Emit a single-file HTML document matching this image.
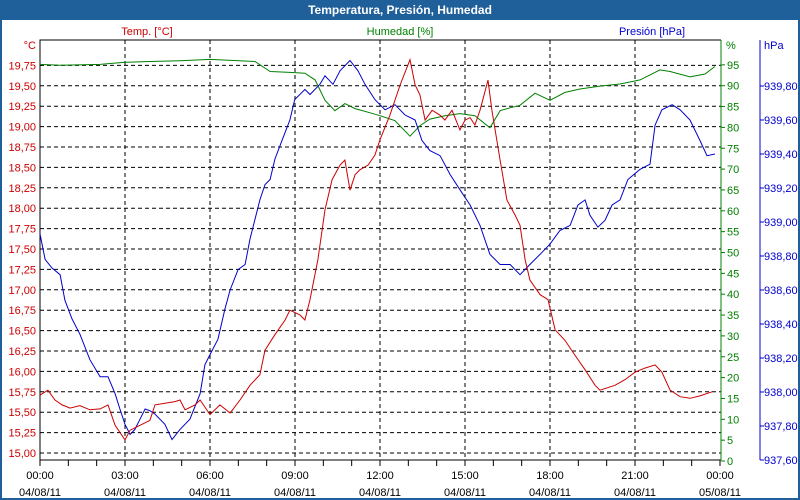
<!DOCTYPE html>
<html><head><meta charset="utf-8">
<style>
html,body{margin:0;padding:0;width:800px;height:500px;overflow:hidden;background:#1f5f9a;font-family:"Liberation Sans",sans-serif}
svg{display:block}
</style></head>
<body>
<svg width="800" height="500" id="c" font-family="Liberation Sans, sans-serif" font-size="11">
<rect x="0" y="0" width="800" height="20" fill="#1f5f9a"/>
<text x="400" y="14" text-anchor="middle" fill="#fff" font-weight="bold" font-size="12">Temperatura, Presión, Humedad</text>
<rect x="2" y="20" width="796" height="478" fill="#fff"/>
<text x="147" y="35" text-anchor="middle" fill="#cc0000">Temp. [°C]</text>
<text x="400" y="35" text-anchor="middle" fill="#008000">Humedad [%]</text>
<text x="652" y="35" text-anchor="middle" fill="#0000cc">Presión [hPa]</text>
<text x="36" y="49" text-anchor="end" fill="#cc0000">°C</text>
<text x="726" y="49" fill="#008000">%</text>
<text x="764" y="49" fill="#0000cc">hPa</text>
<g id="grid"></g><g id="axes"></g><g id="series"></g>
</svg>
<script>
const tempTicks=[15,15.25,15.5,15.75,16,16.25,16.5,16.75,17,17.25,17.5,17.75,18,18.25,18.5,18.75,19,19.25,19.5,19.75];
const humTicks=[0,5,10,15,20,25,30,35,40,45,50,55,60,65,70,75,80,85,90,95];
const presTicks=[937.6,937.8,938.0,938.2,938.4,938.6,938.8,939.0,939.2,939.4,939.6,939.8];
const xTickHours=[0,3,6,9,12,15,18,21,24];
const xTimeLabels=["00:00","03:00","06:00","09:00","12:00","15:00","18:00","21:00","00:00"];
const xDateLabels=["04/08/11","04/08/11","04/08/11","04/08/11","04/08/11","04/08/11","04/08/11","04/08/11","05/08/11"];
const tempHours=[0,.28,.53,.78,1.06,1.41,1.76,2.12,2.4,2.65,3.0,3.18,3.53,3.88,4.06,4.41,4.76,4.94,5.12,5.47,5.65,6,6.35,6.71,7.06,7.41,7.76,7.94,8.29,8.65,8.82,9.18,9.35,9.53,9.81,10.06,10.31,10.59,10.76,10.94,11.12,11.29,11.58,11.82,12,12.35,12.71,13.06,13.24,13.41,13.59,13.84,14.12,14.29,14.54,14.82,15,15.18,15.35,15.53,15.81,15.95,16.24,16.48,16.76,16.94,17.12,17.29,17.65,17.93,18.18,18.53,18.88,19.24,19.59,19.76,20.29,20.65,21,21.35,21.71,21.95,22.24,22.59,22.94,23.29,23.72];
const tempValues=[15.71,15.77,15.65,15.59,15.55,15.58,15.53,15.54,15.59,15.34,15.16,15.28,15.34,15.40,15.59,15.61,15.63,15.65,15.53,15.59,15.65,15.47,15.59,15.49,15.65,15.83,15.96,16.26,16.45,16.63,16.75,16.69,16.63,16.88,17.37,17.98,18.35,18.53,18.59,18.22,18.41,18.47,18.53,18.65,18.84,19.14,19.51,19.82,19.51,19.39,19.08,19.20,19.14,19.08,19.20,18.96,19.08,19.11,19.02,19.20,19.57,19.20,18.59,18.10,17.92,17.79,17.37,17.12,16.94,16.88,16.51,16.38,16.20,16.02,15.83,15.77,15.83,15.90,15.99,16.04,16.08,15.99,15.77,15.69,15.67,15.70,15.75];
const humHours=[0,.71,2.12,3,3.88,4.94,6,7.59,8.12,8.82,9.35,9.71,10.06,10.41,10.76,11.12,11.65,12,12.53,13.06,13.41,13.76,14.29,14.82,15.35,15.88,16.24,16.59,16.94,17.47,18,18.53,19.06,19.76,20.47,21.18,21.88,22.24,22.94,23.47,23.82];
const humValues=[95.1,94.9,95.1,95.6,95.8,96.0,96.3,95.8,93.4,93.2,93.0,91.4,86.5,84.0,85.7,84.5,83.5,82.8,81.6,77.9,80.4,82.0,82.8,83.3,82.8,79.9,84.0,84.7,85.3,88.2,86.5,88.4,89.2,89.9,90.4,91.4,93.8,93.4,92.1,92.8,94.6];
const presHours=[0,.18,.42,.71,.88,1.13,1.41,1.76,2.12,2.4,2.65,2.82,3,3.18,3.35,3.53,3.71,3.88,4.06,4.41,4.66,4.94,5.29,5.65,5.82,6,6.28,6.53,6.71,6.99,7.24,7.41,7.76,7.94,8.12,8.29,8.54,8.82,8.99,9.35,9.53,9.88,10.06,10.34,10.59,10.94,11.22,11.47,11.82,12.18,12.53,12.88,13.24,13.48,13.76,14.12,14.47,14.82,15.18,15.53,15.88,16.24,16.59,16.94,17.29,17.65,18,18.35,18.71,18.99,19.24,19.41,19.69,19.94,20.19,20.47,20.75,21.18,21.53,21.71,21.95,22.31,22.59,22.94,23.29,23.54,23.82];
const presValues=[938.93,938.78,938.73,938.69,938.54,938.43,938.34,938.19,938.09,938.09,937.99,937.90,937.81,937.75,937.78,937.84,937.90,937.89,937.87,937.81,937.72,937.78,937.84,937.99,938.16,938.22,938.31,938.49,938.60,938.72,938.75,938.90,939.13,939.22,939.25,939.37,939.48,939.60,939.72,939.78,939.75,939.81,939.86,939.81,939.89,939.95,939.89,939.81,939.72,939.66,939.69,939.63,939.60,939.48,939.42,939.39,939.28,939.19,939.10,938.98,938.81,938.75,938.75,938.69,938.75,938.81,938.87,938.95,938.98,939.10,939.13,939.04,938.97,939.01,939.10,939.13,939.25,939.31,939.34,939.57,939.66,939.69,939.66,939.60,939.48,939.39,939.40];
const NS="http://www.w3.org/2000/svg";
const L=40,R=721,T=40,B=460;
const x=h=>L+(h/24)*(R-L-1);
const yT=v=>453-(v-15)*81.6;
const yH=v=>461-v*4.17;
const yP=v=>460-(v-937.6)*170;
function mk(tag,at,parent){const e=document.createElementNS(NS,tag);for(const k in at)e.setAttribute(k,at[k]);document.getElementById(parent).appendChild(e);return e;}
tempTicks.forEach((v,i)=>{const g=mk('line',{x1:L,x2:R,y1:yT(v),y2:yT(v),stroke:'#000','stroke-dasharray':'4,3'},'grid');


const t=mk('text',{x:36,y:yT(v)+4,'text-anchor':'end',fill:'#cc0000'},'axes');t.textContent=v.toFixed(2).replace('.',',');

});
xTickHours.forEach((h,i)=>{if(i>0&&i<8){const g=mk('line',{x1:x(h),x2:x(h),y1:T,y2:B,stroke:'#000','stroke-dasharray':'4,3'},'grid');

}
const t1=mk('text',{x:x(h),y:479,'text-anchor':'middle',fill:'#000'},'axes');t1.textContent=xTimeLabels[i];


const t2=mk('text',{x:x(h),y:496,'text-anchor':'middle',fill:'#000'},'axes');t2.textContent=xDateLabels[i];

});
for(let h=0;h<=24;h++){const tk=mk('line',{x1:x(h),x2:x(h),y1:B,y2:B+6,stroke:'#000'},'axes');

}
humTicks.forEach(v=>{const tk=mk('line',{x1:R,x2:R+4,y1:yH(v),y2:yH(v),stroke:'#008000'},'axes');


const t=mk('text',{x:727,y:yH(v)+4,fill:'#008000'},'axes');t.textContent=v;

});
presTicks.forEach(v=>{const tk=mk('line',{x1:760,x2:764,y1:yP(v),y2:yP(v),stroke:'#0000cc'},'axes');


const t=mk('text',{x:764,y:yP(v)+4,fill:'#0000cc'},'axes');t.textContent=v.toFixed(2).replace('.',',');

});
const a1=mk('polyline',{points:`${R},${T} ${L},${T} ${L},${B} ${R},${B}`,fill:'none',stroke:'#000'},'axes');


const a2=mk('line',{x1:R,x2:R,y1:T,y2:B,stroke:'#008000'},'axes');


const a3=mk('line',{x1:760,x2:760,y1:T,y2:B,stroke:'#0000cc'},'axes');


function series(hs,vs,yf,col,name){const p=mk('polyline',{points:hs.map((h,i)=>x(h).toFixed(1)+','+yf(vs[i]).toFixed(1)).join(' '),fill:'none',stroke:col,'stroke-width':1},'series');

}
series(humHours,humValues,yH,'#008000','humidity-line');
series(presHours,presValues,yP,'#0000cc','pressure-line');
series(tempHours,tempValues,yT,'#cc0000','temperature-line');
</script>
</body></html>
